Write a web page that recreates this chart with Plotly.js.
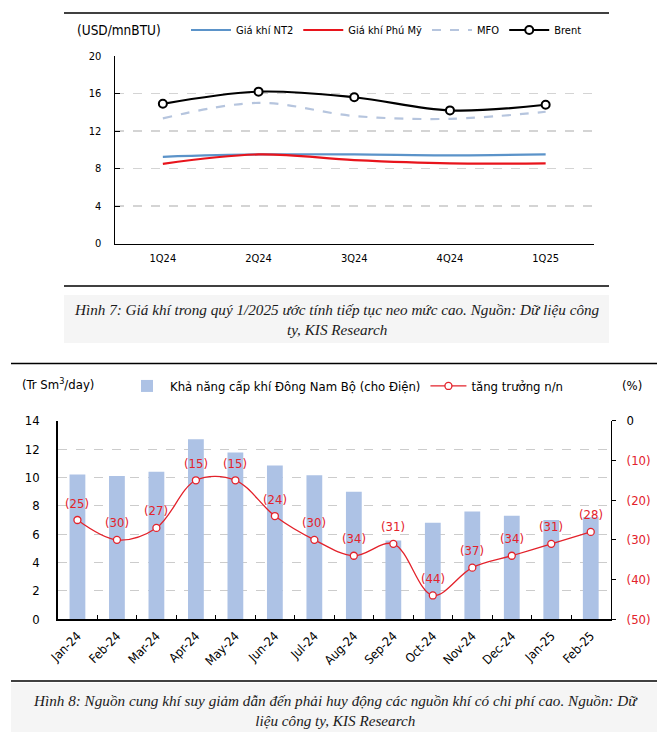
<!DOCTYPE html>
<html>
<head>
<meta charset="utf-8">
<script src="https://cdn.plot.ly/plotly-3.0.1.min.js"></script>
<style>
html,body{margin:0;padding:0;background:#fff;}
#chart{width:669px;height:732px;}
</style>
</head>
<body>
<div id="chart"></div>
<script>
// ---- Data: Figure 7 (gas prices, USD/mnBTU) ----
var quarters = ['1Q24', '2Q24', '3Q24', '4Q24', '1Q25'];
var nt2Price = [9.25, 9.5, 9.5, 9.4, 9.5];
var phuMyPrice = [8.5, 9.5, 8.9, 8.55, 8.55];
var mfoPrice = [13.35, 15.0, 13.6, 13.3, 14.05];
var brentPrice = [14.9, 16.2, 15.6, 14.2, 14.8];
var priceTicks = [0, 4, 8, 12, 16, 20];

// ---- Data: Figure 8 (gas supply, Tr Sm3/day; growth %) ----
var months = ['Jan-24', 'Feb-24', 'Mar-24', 'Apr-24', 'May-24', 'Jun-24', 'Jul-24',
              'Aug-24', 'Sep-24', 'Oct-24', 'Nov-24', 'Dec-24', 'Jan-25', 'Feb-25'];
var supply = [10.2, 10.1, 10.4, 12.7, 11.75, 10.85, 10.15, 9.0, 5.55, 6.8, 7.6, 7.3, 7.0, 7.2];
var growth = [-25, -30, -27, -15, -15, -24, -30, -34, -31, -44, -37, -34, -31, -28];
var supplyTicks = [0, 2, 4, 6, 8, 10, 12, 14];
var growthTicks = [0, -10, -20, -30, -40, -50];

var SANS = 'DejaVu Sans Condensed, DejaVu Sans, sans-serif';
var SERIF = 'Liberation Serif, Times New Roman, serif';
var RED = '#e3222b';
var W = 669, H = 732;
function px(x) { return x / W; }
function py(y) { return 1 - y / H; }
function paren(v) { return v === 0 ? '<span style="fill:#000">0</span>' : '(' + Math.abs(v) + ')'; }

var traces = [
  { x: quarters, y: nt2Price, name: 'Giá khí NT2', type: 'scatter', mode: 'lines',
    line: { color: '#5b93c9', width: 2.2, shape: 'spline' }, xaxis: 'x', yaxis: 'y', legend: 'legend' },
  { x: quarters, y: phuMyPrice, name: 'Giá khí Phú Mỹ', type: 'scatter', mode: 'lines',
    line: { color: '#e8141c', width: 2.2, shape: 'spline' }, xaxis: 'x', yaxis: 'y', legend: 'legend' },
  { x: quarters, y: mfoPrice, name: 'MFO', type: 'scatter', mode: 'lines',
    line: { color: '#b6c5de', width: 2.2, dash: 'dash', shape: 'spline' }, xaxis: 'x', yaxis: 'y', legend: 'legend' },
  { x: quarters, y: brentPrice, name: 'Brent', type: 'scatter', mode: 'lines+markers',
    line: { color: '#000', width: 2.2, shape: 'spline' },
    marker: { symbol: 'circle', size: 8, color: '#fff', line: { color: '#000', width: 2 } },
    xaxis: 'x', yaxis: 'y', legend: 'legend' },
  { x: months, y: supply, name: 'Khả năng cấp khí Đông Nam Bộ (cho Điện)', type: 'bar',
    marker: { color: '#adc2e5' }, width: 0.4, xaxis: 'x2', yaxis: 'y2', legend: 'legend2' },
  { x: months, y: growth, name: 'tăng trưởng n/n', type: 'scatter', mode: 'lines+markers',
    line: { color: RED, width: 1.3, shape: 'spline' },
    marker: { symbol: 'circle', size: 7, color: '#fff', line: { color: RED, width: 1.3 } },
    xaxis: 'x2', yaxis: 'y3', legend: 'legend2' }
];

var annotations = [
  { text: '(USD/mnBTU)', xref: 'paper', yref: 'paper', x: px(75), y: py(30), xanchor: 'left', yanchor: 'middle',
    showarrow: false, font: { family: SANS, size: 13.5, color: '#000' } },
  { text: '(Tr Sm<sup>3</sup>/day)', xref: 'paper', yref: 'paper', x: px(20), y: py(384), xanchor: 'left', yanchor: 'middle',
    showarrow: false, font: { family: SANS, size: 13, color: '#000' } },
  { text: '(%)', xref: 'paper', yref: 'paper', x: px(620), y: py(385), xanchor: 'left', yanchor: 'middle',
    showarrow: false, font: { family: SANS, size: 13, color: '#000' } },
  { text: 'Hình 7: Giá khí trong quý 1/2025 ước tính tiếp tục neo mức cao. Nguồn: Dữ liệu công<br>ty, KIS Research',
    xref: 'paper', yref: 'paper', x: px(336.5), y: py(319.5), xanchor: 'center', yanchor: 'middle', align: 'center',
    showarrow: false, font: { family: SERIF, size: 15.2, color: '#1a1a1a', style: 'italic' } },
  { text: 'Hình 8: Nguồn cung khí suy giảm dẫn đến phải huy động các nguồn khí có chi phí cao. Nguồn: Dữ<br>liệu công ty, KIS Research',
    xref: 'paper', yref: 'paper', x: px(335.5), y: py(710), xanchor: 'center', yanchor: 'middle', align: 'center',
    showarrow: false, font: { family: SERIF, size: 15.2, color: '#1a1a1a', style: 'italic' } }
];
for (var i = 0; i < months.length; i++) {
  annotations.push({ text: '(' + Math.abs(growth[i]) + ')', xref: 'x2', yref: 'y3', x: months[i], y: growth[i],
    yshift: 17, showarrow: false, xanchor: 'center', yanchor: 'middle',
    font: { family: SANS, size: 13, color: RED } });
}

var shapes = [
  { type: 'line', xref: 'paper', yref: 'paper', x0: px(64), x1: px(609), y0: py(13), y1: py(13), line: { color: '#000', width: 1.5 } },
  { type: 'line', xref: 'paper', yref: 'paper', x0: px(64), x1: px(609), y0: py(286), y1: py(286), line: { color: '#000', width: 1.5 } },
  { type: 'rect', xref: 'paper', yref: 'paper', x0: px(64), x1: px(609), y0: py(295), y1: py(343), fillcolor: '#f5f5f5', line: { width: 0 }, layer: 'below' },
  { type: 'line', xref: 'paper', yref: 'paper', x0: px(11), x1: px(657), y0: py(363.5), y1: py(363.5), line: { color: '#000', width: 1.5 } },
  { type: 'line', xref: 'paper', yref: 'paper', x0: px(11), x1: px(657), y0: py(681), y1: py(681), line: { color: '#000', width: 1.5 } },
  { type: 'rect', xref: 'paper', yref: 'paper', x0: px(11), x1: px(657), y0: py(683), y1: py(732), fillcolor: '#f5f5f5', line: { width: 0 }, layer: 'below' }
];

var layout = {
  width: W, height: H,
  margin: { l: 0, r: 0, t: 0, b: 0 },
  paper_bgcolor: '#fff', plot_bgcolor: 'rgba(0,0,0,0)',
  font: { family: SANS, color: '#000' },
  showlegend: true,
  xaxis: {
    domain: [px(115), px(593.5)], anchor: 'y', type: 'category', range: [-0.5, 4.5],
    showline: true, linecolor: '#000', linewidth: 1.5, ticks: '', showgrid: false,
    tickfont: { family: SANS, size: 11, color: '#000' }, ticklabelstandoff: 4
  },
  yaxis: {
    domain: [py(243.5), py(56)], anchor: 'x', range: [0, 20], tickvals: priceTicks,
    showline: true, linecolor: '#000', linewidth: 1.5, ticks: 'inside', ticklen: 5, tickcolor: '#000',
    showgrid: true, gridcolor: '#d4d4d4', griddash: 'dash', gridwidth: 1.5, zeroline: false,
    tickfont: { family: SANS, size: 11, color: '#000' }, ticklabelstandoff: 10
  },
  xaxis2: {
    domain: [px(57.7), px(610.5)], anchor: 'y2', type: 'category', range: [-0.5, 13.5],
    showline: true, linecolor: '#000', linewidth: 1.5, ticks: 'inside', tickson: 'boundaries', ticklen: 4, tickcolor: '#000',
    showgrid: false, tickangle: -45,
    tickfont: { family: SANS, size: 12.5, color: '#000' }, ticklabelstandoff: 3
  },
  yaxis2: {
    domain: [py(619.3), py(420.7)], anchor: 'x2', range: [0, 14], tickvals: supplyTicks,
    showline: true, linecolor: '#000', linewidth: 1.5, ticks: '',
    showgrid: true, gridcolor: '#cccccc', griddash: 'dash', gridwidth: 1, zeroline: false,
    tickfont: { family: SANS, size: 13, color: '#000' }, ticklabelstandoff: 14
  },
  yaxis3: {
    overlaying: 'y2', side: 'right', anchor: 'x2', range: [-50, 0], tickvals: growthTicks,
    ticktext: growthTicks.map(paren),
    showline: true, linecolor: '#000', linewidth: 1.5, ticks: 'outside', ticklen: 4, tickcolor: '#000',
    showgrid: false, zeroline: false,
    tickfont: { family: SANS, size: 13, color: RED }, ticklabelstandoff: 8
  },
  legend: {
    orientation: 'h', x: px(186), y: py(30), xanchor: 'left', yanchor: 'middle',
    bgcolor: 'rgba(0,0,0,0)', font: { family: SANS, size: 11, color: '#000' }, itemwidth: 40, tracegroupgap: 0
  },
  legend2: {
    orientation: 'h', x: px(124), y: py(386), xanchor: 'left', yanchor: 'middle',
    bgcolor: 'rgba(0,0,0,0)', font: { family: SANS, size: 13, color: '#000' }, itemwidth: 36
  },
  annotations: annotations,
  shapes: shapes
};

Plotly.newPlot('chart', traces, layout, { staticPlot: true, displayModeBar: false });
</script>
</body>
</html>
